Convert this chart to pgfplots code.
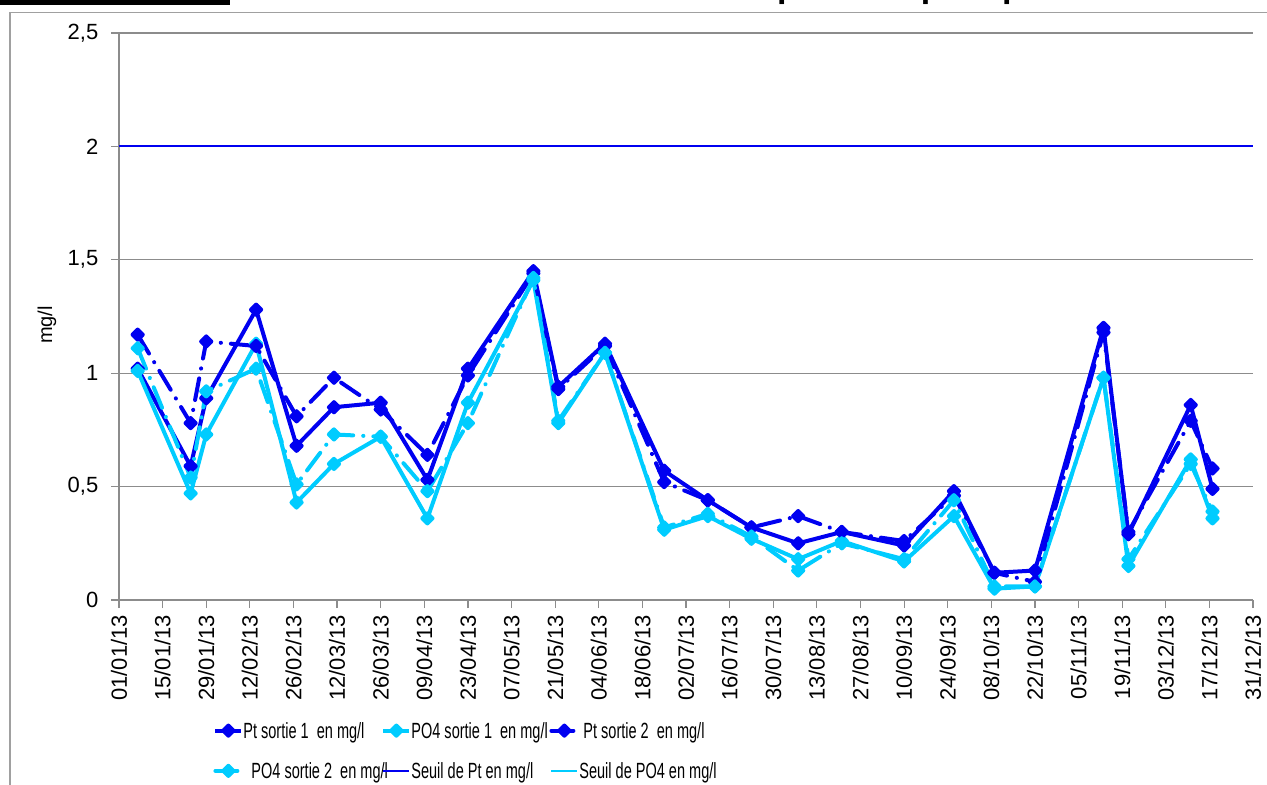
\documentclass[border=0pt]{standalone}
\usepackage{pgfplots}
\usepackage{pgfplotstable}
\pgfplotsset{compat=1.18}
\usepackage{fontspec}
\setmainfont{Liberation Sans}

\definecolor{ptblue}{RGB}{0,0,240}
\definecolor{pocyan}{RGB}{0,204,255}
\definecolor{gridgray}{RGB}{140,140,140}
\definecolor{framegray}{RGB}{160,160,160}

% day of year (0 = 01/01/13), Pt sortie 1, PO4 sortie 1, Pt sortie 2, PO4 sortie 2 (mg/l)
\pgfplotstableread{
day  pta   poa   ptb   pob
6    1.02  1.01  1.17  1.11
23   0.59  0.47  0.78  0.54
28   0.89  0.73  1.14  0.92
44   1.28  1.13  1.12  1.02
57   0.68  0.43  0.81  0.51
69   0.85  0.60  0.98  0.73
84   0.87  0.72  0.84  0.72
99   0.53  0.36  0.64  0.48
112  1.02  0.87  0.99  0.78
133  1.45  1.41  1.44  1.42
141  0.94  0.78  0.93  0.79
156  1.13  1.09  1.12  1.09
175  0.57  0.31  0.52  0.32
189  0.44  0.37  0.44  0.38
203  0.32  0.27  0.32  0.28
218  0.25  0.18  0.37  0.13
232  0.30  0.26  0.30  0.25
252  0.24  0.17  0.26  0.18
268  0.48  0.37  0.46  0.44
281  0.12  0.05  0.12  0.06
294  0.13  0.06  0.08  0.06
316  1.20  0.98  1.18  0.98
324  0.29  0.15  0.30  0.18
344  0.86  0.62  0.79  0.60
351  0.49  0.36  0.58  0.39
}\rejets

\newcommand{\leg}[1]{\makebox[67.5pt][l]{\strut\scalebox{0.66}[1]{#1}}}

\begin{document}
\begin{tikzpicture}
\clip (0pt,0pt) rectangle (633.5pt,392pt);

\begin{axis}[
  at={(59.5pt,92pt)}, anchor=south west,
  scale only axis, width=567pt, height=283.5pt,
  xmin=0, xmax=364, ymin=0, ymax=2.5,
  xtick={0,14,...,364},
  xticklabels={01/01/13,15/01/13,29/01/13,12/02/13,26/02/13,12/03/13,26/03/13,09/04/13,23/04/13,07/05/13,21/05/13,04/06/13,18/06/13,02/07/13,16/07/13,30/07/13,13/08/13,27/08/13,10/09/13,24/09/13,08/10/13,22/10/13,05/11/13,19/11/13,03/12/13,17/12/13,31/12/13},
  ytick={0,0.5,1,1.5,2,2.5},
  yticklabels={0,{0,5},1,{1,5},2,{2,5}},
  axis x line*=bottom, axis y line*=left,
  axis line style={gridgray, line width=0.6pt, -},
  tick align=outside, major tick length=4pt,
  tick style={gridgray, line width=0.6pt},
  ymajorgrids, grid style={gridgray, line width=0.6pt},
  xticklabel style={rotate=90, anchor=east, font=\fontsize{11}{13}\selectfont},
  yticklabel style={font=\fontsize{11}{13}\selectfont, xshift=-2.8pt},
  every axis y label/.style={at={(rel axis cs:-0.0635,0.485)}, rotate=90, anchor=center},
  ylabel={\fontsize{10}{12}\selectfont mg/l},
  clip=false,
  legend columns=3,
  legend style={at={(rel axis cs:0.0829,-0.211)}, anchor=north west, draw=none, fill=none,
    inner sep=0pt, row sep=9.5pt, nodes={inner sep=0pt},
    /tikz/every even column/.append style={column sep=1.5pt},
    font=\fontsize{11}{13}\selectfont},
  legend image code/.code={\draw[#1, mark repeat=2, mark phase=2] plot coordinates {(0pt,0pt) (6.5pt,0pt) (13pt,0pt)};},
  every axis plot/.append style={line width=2pt, line join=round},
  mark size=1.8pt,
]
\addplot[ptblue, mark=square*, mark options={rotate=45, solid}] table[x=day, y=pta] {\rejets};
\addlegendentry{\leg{Pt sortie 1 \ en mg/l}}
\addplot[pocyan, mark=square*, mark options={rotate=45, solid}] table[x=day, y=poa] {\rejets};
\addlegendentry{\leg{PO4 sortie 1 \ en mg/l}}
\addplot[ptblue, line cap=round, dash pattern=on 11pt off 5pt on 0.1pt off 5pt, mark=square*, mark options={rotate=45, solid}] table[x=day, y=ptb] {\rejets};
\addlegendentry{\leg{\ Pt sortie 2 \ en mg/l}}
\addplot[pocyan, line cap=round, dash pattern=on 11pt off 5pt on 0.1pt off 5pt, mark=square*, mark options={rotate=45, solid}] table[x=day, y=pob] {\rejets};
\addlegendentry{\leg{\ \ PO4 sortie 2 \ en mg/l}}
\addplot[ptblue, line width=1pt, mark=none] coordinates {(0,2) (364,2)};
\addlegendentry{\leg{Seuil de Pt en mg/l}}
\addlegendimage{pocyan, line width=1pt, mark=none}
\addlegendentry{\leg{Seuil de PO4 en mg/l}}
\end{axis}

% chart frame (left and top edges; the rest lies beyond the page)
\draw[overlay, framegray, line width=0.6pt] (5pt,-10pt) -- (5pt,385.8pt) -- (650pt,385.8pt);

% title (runs above the page edge)
\node[overlay, anchor=base east, inner sep=0pt, font=\fontsize{17}{20}\selectfont\bfseries] at (115pt,393.2pt) {Graphique 5 :};
\fill[overlay, black] (-5pt,389.5pt) rectangle (115pt,396pt);
\node[overlay, anchor=base east, inner sep=0pt, font=\fontsize{17}{20}\selectfont\bfseries] at (556pt,393.2pt) {Suivi des concentrations en Phosphore et phosphates};
\end{tikzpicture}
\end{document}
